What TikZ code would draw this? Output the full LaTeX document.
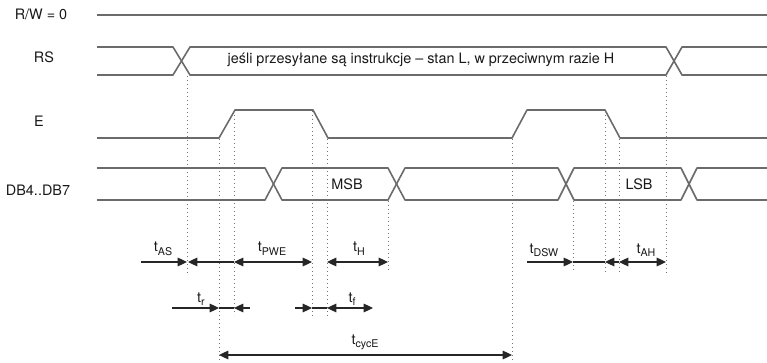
\documentclass[tikz,border=0pt]{standalone}
\usepackage{fontspec}
\setmainfont{TeX Gyre Heros}
\usetikzlibrary{arrows.meta}

\newcommand{\tlab}[1]{t\raisebox{-0.5ex}{\fontsize{8}{9}\selectfont #1}}

\begin{document}
\begin{tikzpicture}[x=0.75pt,y=-0.75pt,
    >={Triangle[length=7pt,width=6.5pt]},
    sig/.style={draw=black!58,line width=1.2pt,line join=round},
    guide/.style={draw=black!55,line width=0.6pt,dash pattern=on 0.6pt off 2.4pt},
    dim/.style={draw=black!85,line width=0.9pt},
    lbl/.style={text=black!90,font=\fontsize{10.8}{13}\selectfont,inner sep=0pt,anchor=base}]
  \useasboundingbox (0,0) rectangle (767,363);

  % signal names
  \node[lbl] (rw) at (41,20) {R/W = 0};
  \node[lbl] (rs) at (44,63) {RS};
  \node[lbl] (e) at (39,127) {E};
  \node[lbl] (db) at (38,196) {DB4..DB7};

  % R/W
  \draw[sig] (97,15) -- (767,15);

  % RS
  \draw[sig] (97,47) -- (173,47) -- (190,75) -- (666,75) -- (682,47) -- (767,47);
  \draw[sig] (97,75) -- (173,75) -- (190,47) -- (666,47) -- (682,75) -- (767,75);
  \node[lbl] (rsnote) at (421,64) {jeśli przesyłane są instrukcje – stan L, w przeciwnym razie H};

  % E
  \draw[sig] (97,138) -- (219,138) -- (235,110) -- (313,110) -- (328,138)
    -- (512,138) -- (527,110) -- (605,110) -- (620,138) -- (767,138);

  % DB4..DB7
  \draw[sig] (97,168) -- (265,168) -- (282,200) -- (388,200) -- (405,168)
    -- (558,168) -- (574,200) -- (681,200) -- (697,168) -- (767,168);
  \draw[sig] (97,200) -- (265,200) -- (282,168) -- (388,168) -- (405,200)
    -- (558,200) -- (574,168) -- (681,168) -- (697,200) -- (767,200);
  \node[lbl] (msb) at (347,190) {MSB};
  \node[lbl] (lsb) at (639,190) {LSB};

  % guide lines
  \draw[guide] (187,76) -- (187,274);
  \draw[guide] (219,139) -- (219,360);
  \draw[guide] (234,111) -- (234,315);
  \draw[guide] (312,111) -- (312,316);
  \draw[guide] (327,139) -- (327,318);
  \draw[guide] (388,201) -- (388,272);
  \draw[guide] (512,139) -- (512,360);
  \draw[guide] (573,201) -- (573,272);
  \draw[guide] (605,111) -- (605,272);
  \draw[guide] (619,139) -- (619,272);
  \draw[guide] (666,76) -- (666,275);

  % timings, first row
  \draw[dim,->] (141,262) -- (187,262);
  \draw[dim,<-] (188,262) -- (234,262);
  \draw[dim,<->] (234,262) -- (312,262);
  \draw[dim,<->] (327,262) -- (388,262);
  \draw[dim,->] (527,262) -- (573,262);
  \draw[dim] (573,262) -- (605,262);
  \draw[dim,<-] (605,262) -- (619,262);
  \draw[dim,<->] (619,262) -- (666,262);
  \node[lbl] (tas) at (163,252) {\tlab{AS}};
  \node[lbl] (tpwe) at (272,252) {\tlab{PWE}};
  \node[lbl] (th) at (359,252) {\tlab{H}};
  \node[lbl] (tdsw) at (544,253) {\tlab{DSW}};
  \node[lbl] (tah) at (646,253) {\tlab{AH}};

  % timings, second row
  \draw[dim,->] (172,308) -- (219,308);
  \draw[dim] (219,308) -- (234,308);
  \draw[dim,<-] (234,308) -- (250,308);
  \draw[dim,->] (295,308) -- (312,308);
  \draw[dim] (312,308) -- (327,308);
  \draw[dim,<->] (327,308) -- (373,308);
  \node[lbl] (tr) at (201,302) {\tlab{r}};
  \node[lbl] (tf) at (352,302) {\tlab{f}};

  % cycle time
  \draw[dim,<->] (219,355) -- (512,355);
  \node[lbl] (tcyc) at (365,344) {\tlab{cycE}};
\end{tikzpicture}
\end{document}
